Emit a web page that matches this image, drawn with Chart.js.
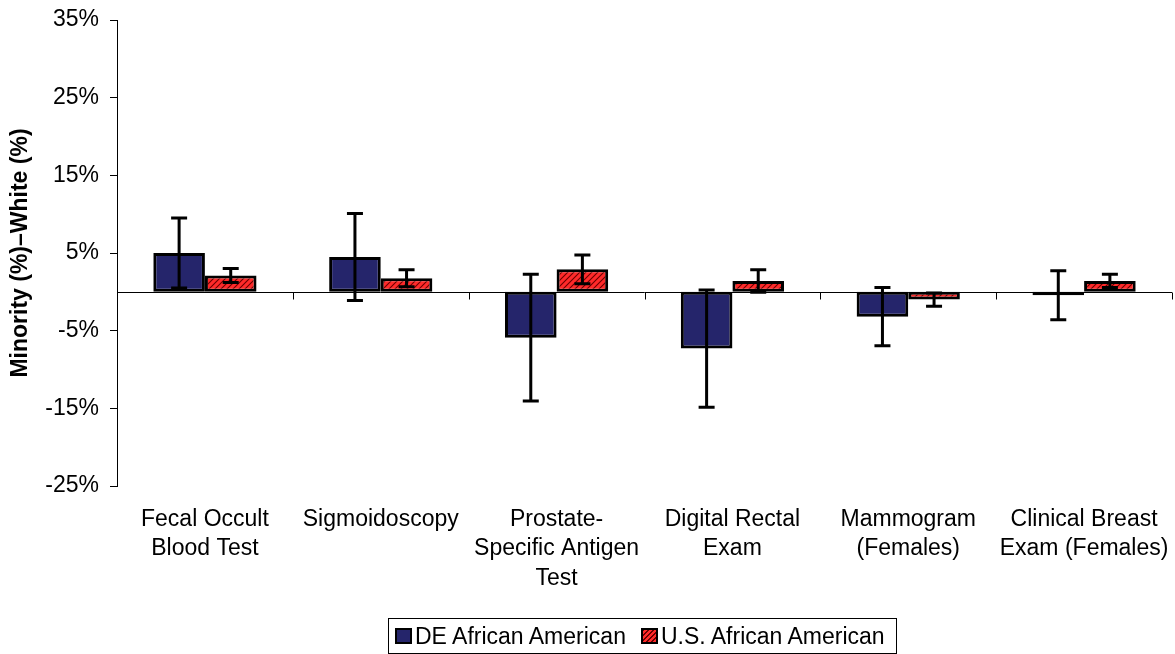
<!DOCTYPE html>
<html>
<head>
<meta charset="utf-8">
<script src="https://cdn.jsdelivr.net/npm/chart.js@4.4.1/dist/chart.umd.min.js"></script>
<style>
  html, body { margin: 0; padding: 0; background: #fff; }
  #wrap { position: relative; width: 1175px; height: 654px; }
  #leyenda {
    position: absolute; left: 388px; top: 618px; width: 509px; height: 36px;
    border: 1px solid #000; box-sizing: border-box;
    display: flex; align-items: center; padding-left: 6px;
    font-family: "Liberation Sans", Arial, sans-serif; font-size: 23px; color: #000;
  }
  #leyenda .item { display: flex; align-items: center; margin-right: 15px; white-space: nowrap; }
  #leyenda .caja { width: 17px; height: 16px; border: 2px solid #000; box-sizing: border-box; margin-right: 3px; }
</style>
</head>
<body>
<div id="wrap">
  <canvas id="grafica" width="1175" height="654"></canvas>
  <div id="leyenda"></div>
</div>
<script>
// ── datos (puntos porcentuales, minoría − blancos) ──
const CATEGORIAS = [
  ['Fecal Occult', 'Blood Test'],
  ['Sigmoidoscopy'],
  ['Prostate-', 'Specific Antigen', 'Test'],
  ['Digital Rectal', 'Exam'],
  ['Mammogram', '(Females)'],
  ['Clinical Breast', 'Exam (Females)'],
];
const SERIES = ['DE African American', 'U.S. African American'];
const DE_VALORES = [5.0, 4.5, -5.9, -7.3, -3.2, -0.45];
const DE_ERROR   = [4.5, 5.6, 8.15, 7.55, 3.75, 3.15];
const US_VALORES = [2.1, 1.75, 2.9, 1.4, -1.0, 1.4];
const US_ERROR   = [0.9, 1.1, 1.85, 1.45, 0.85, 0.85];
const Y_MIN = -25, Y_MAX = 35, Y_PASO = 10;

const FUENTE = '"Liberation Sans", Arial, sans-serif';
const AZUL = '#25256b';
const ROJO = '#ff2a2a';

// rayado diagonal "///" para la serie de EE.UU.
function _patronRayado() {
  const c = document.createElement('canvas');
  c.width = 6; c.height = 6;
  const g = c.getContext('2d');
  g.fillStyle = ROJO;
  g.fillRect(0, 0, 6, 6);
  g.strokeStyle = '#6a0000';
  g.lineWidth = 1.1;
  g.beginPath();
  g.moveTo(0, 6); g.lineTo(6, 0);
  g.moveTo(-3, 3); g.lineTo(3, -3);
  g.moveTo(3, 9); g.lineTo(9, 3);
  g.stroke();
  return g.createPattern(c, 'repeat');
}

// ── barras de error (±) sobre cada barra ──
const pluginErrores = {
  id: 'errores',
  afterDatasetsDraw(chart) {
    const { ctx } = chart;
    const y = chart.scales.y;
    ctx.save();
    ctx.strokeStyle = '#000';
    ctx.lineWidth = 3;
    chart.data.datasets.forEach((ds, i) => {
      const meta = chart.getDatasetMeta(i);
      meta.data.forEach((bar, j) => {
        const v = ds.data[j], e = ds.errores[j];
        const yArr = y.getPixelForValue(v + e), yAb = y.getPixelForValue(v - e);
        ctx.beginPath();
        ctx.moveTo(bar.x, yArr); ctx.lineTo(bar.x, yAb);
        ctx.moveTo(bar.x - 8, yArr); ctx.lineTo(bar.x + 8, yArr);
        ctx.moveTo(bar.x - 8, yAb); ctx.lineTo(bar.x + 8, yAb);
        ctx.stroke();
      });
    });
    ctx.restore();
  },
};

// ── línea de cero con marcas entre categorías ──
const pluginCero = {
  id: 'cero',
  beforeDatasetsDraw(chart) {
    const { ctx, chartArea } = chart;
    const x = chart.scales.x, y = chart.scales.y;
    const y0 = Math.round(y.getPixelForValue(0)) + 0.5;
    ctx.save();
    ctx.strokeStyle = '#000';
    ctx.lineWidth = 1;
    ctx.beginPath();
    ctx.moveTo(chartArea.left, y0); ctx.lineTo(chartArea.right, y0);
    for (let i = 0; i < CATEGORIAS.length; i++) {
      const xb = i < CATEGORIAS.length - 1
        ? (x.getPixelForValue(i) + x.getPixelForValue(i + 1)) / 2
        : chartArea.right;
      const xr = Math.round(xb) + 0.5;
      ctx.moveTo(xr, y0); ctx.lineTo(xr, y0 + 7);
    }
    ctx.stroke();
    ctx.restore();
  },
};

const rayado = _patronRayado();

new Chart(document.getElementById('grafica'), {
  type: 'bar',
  data: {
    labels: CATEGORIAS,
    datasets: [
      { label: SERIES[0], data: DE_VALORES, errores: DE_ERROR, backgroundColor: AZUL, borderColor: '#000', borderWidth: 3, borderSkipped: false },
      { label: SERIES[1], data: US_VALORES, errores: US_ERROR, backgroundColor: rayado, borderColor: '#000', borderWidth: 3, borderSkipped: false },
    ],
  },
  options: {
    responsive: false,
    animation: false,
    events: [],
    categoryPercentage: 0.587,
    barPercentage: 1.0,
    layout: { padding: { top: 20, right: 3, left: 0, bottom: 38 } },
    plugins: { legend: { display: false }, tooltip: { enabled: false } },
    scales: {
      x: {
        grid: { display: false },
        border: { display: false },
        ticks: { color: '#000', font: { family: FUENTE, size: 23, lineHeight: 1.275 }, padding: 11, maxRotation: 0, autoSkip: false },
        afterFit(s) { s.height = 130; s.paddingLeft = 0; s.paddingRight = 0; },
      },
      y: {
        min: Y_MIN, max: Y_MAX,
        grid: { drawOnChartArea: false, drawTicks: true, tickLength: 7, color: '#000' },
        border: { display: true, color: '#000', width: 1 },
        ticks: { stepSize: Y_PASO, color: '#000', padding: 11, font: { family: FUENTE, size: 23 }, callback: v => v + '%' },
        title: { display: true, text: 'Minority (%)–White (%)', color: '#000', padding: { top: 7, bottom: 0 }, font: { family: FUENTE, size: 23, weight: 'bold' } },
        afterFit(s) { s.width = 117; s.paddingTop = 0; s.paddingBottom = 0; },
      },
    },
  },
  plugins: [pluginCero, pluginErrores],
});

// leyenda con recuadro, como en la figura original
document.getElementById('leyenda').innerHTML = SERIES.map((s, i) => {
  const fondo = i === 0 ? `background:${AZUL}`
    : `background:repeating-linear-gradient(-45deg, ${ROJO} 0 2.5px, #6a0000 2.5px 3.6px)`;
  return `<div class="item"><span class="caja" style="${fondo}"></span>${s}</div>`;
}).join('');
</script>
</body>
</html>
